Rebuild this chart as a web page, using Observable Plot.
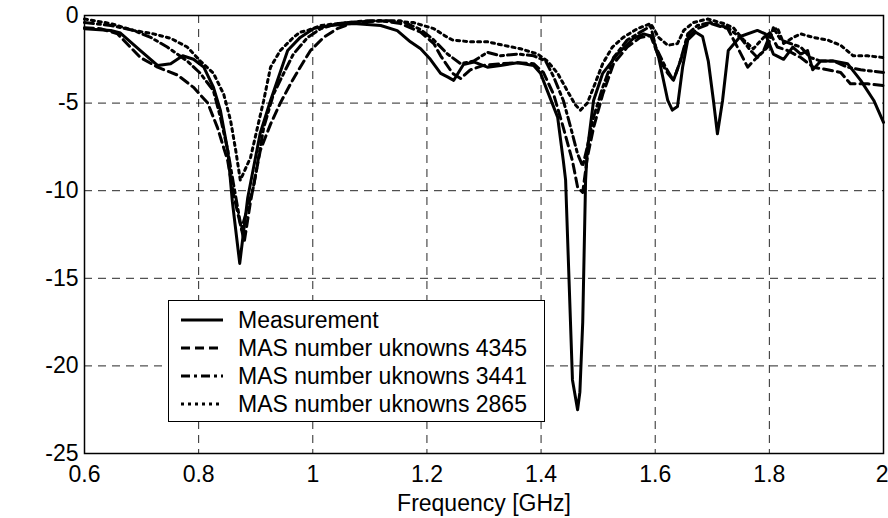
<!DOCTYPE html>
<html><head><meta charset="utf-8">
<script src="https://cdn.jsdelivr.net/npm/d3@7"></script>
<script src="https://cdn.jsdelivr.net/npm/@observablehq/plot@0.6"></script>
<style>
body{margin:0;background:#fff;font-family:"Liberation Sans",Arial,Helvetica,sans-serif;}
#wrap{position:relative;width:888px;height:518px;overflow:hidden;}
#legend{position:absolute;left:168px;top:300px;width:377px;height:122px;box-sizing:border-box;border:1px solid #000;background:#fff;font-size:23px;color:#000;}
.row{position:absolute;left:0;height:28px;display:flex;align-items:center;white-space:nowrap;}
.row svg{margin-left:12px;margin-right:15px;}
</style></head><body>
<div id="wrap"></div>
<script>
// ---- data ----
const seriesNames = ["Measurement", "MAS number uknowns 4345", "MAS number uknowns 3441", "MAS number uknowns 2865"];
const seriesDash = ["none", "9,5", "9,4,3,4", "3,4"];

const freqMeas = [0.600,0.646,0.663,0.698,0.728,0.751,0.772,0.791,0.809,0.826,0.838,0.851,0.859,0.872,0.886,0.908,0.926,0.956,0.978,1.001,1.031,1.071,1.119,1.148,1.171,1.189,1.206,1.224,1.236,1.247,1.264,1.282,1.306,1.329,1.359,1.387,1.399,1.411,1.429,1.439,1.443,1.455,1.464,1.468,1.473,1.478,1.481,1.492,1.508,1.534,1.562,1.580,1.595,1.606,1.622,1.630,1.639,1.648,1.657,1.671,1.683,1.693,1.702,1.709,1.718,1.728,1.749,1.779,1.793,1.807,1.825,1.841,1.855,1.867,1.876,1.890,1.912,1.937,1.960,1.983,2.000];
const dbMeas   = [-0.75,-0.85,-1.0,-2.0,-2.85,-2.75,-2.3,-2.5,-2.95,-4.1,-5.4,-7.7,-10.6,-14.15,-10.4,-6.7,-4.85,-2.0,-1.25,-0.75,-0.57,-0.46,-0.57,-0.86,-1.5,-1.9,-2.5,-3.3,-3.5,-3.7,-2.8,-2.65,-2.95,-2.85,-2.7,-2.85,-3.3,-4.3,-5.8,-8.3,-9.4,-20.8,-22.5,-21.5,-17.5,-9.4,-7.7,-4.85,-3.3,-2.2,-1.3,-1.05,-1.2,-2.4,-4.85,-5.4,-5.2,-2.95,-1.4,-0.95,-1.2,-2.6,-4.85,-6.75,-4.85,-2.0,-1.2,-0.85,-1.05,-2.2,-2.5,-1.8,-2.2,-2.0,-3.1,-2.6,-2.6,-2.75,-3.7,-4.85,-6.1];

const freq4345 = [0.600,0.628,0.658,0.698,0.728,0.763,0.791,0.816,0.833,0.851,0.861,0.880,0.891,0.908,0.926,0.943,0.961,0.978,0.996,1.019,1.043,1.071,1.119,1.154,1.189,1.212,1.224,1.245,1.259,1.276,1.299,1.329,1.359,1.387,1.404,1.422,1.439,1.455,1.464,1.473,1.481,1.492,1.508,1.527,1.551,1.574,1.592,1.609,1.622,1.632,1.644,1.657,1.674,1.697,1.727,1.744,1.762,1.772,1.790,1.802,1.814,1.832,1.855,1.877,1.902,1.925,1.942,1.972,2.000];
const db4345   = [-0.7,-0.75,-1.05,-2.4,-2.95,-3.4,-4.1,-5.0,-6.4,-8.3,-10.2,-12.9,-10.6,-7.7,-6.2,-5.0,-3.9,-2.95,-2.0,-1.25,-0.75,-0.4,-0.3,-0.46,-0.95,-1.6,-2.3,-3.3,-3.6,-3.1,-2.85,-2.75,-2.7,-2.75,-3.25,-4.5,-6.4,-8.3,-9.8,-10.1,-8.1,-6.4,-4.5,-2.75,-1.8,-1.25,-1.15,-2.6,-3.3,-3.7,-2.6,-1.25,-0.75,-0.46,-0.75,-1.8,-2.95,-2.6,-2.0,-1.05,-1.8,-2.0,-2.4,-2.95,-3.1,-3.25,-3.9,-3.9,-4.0];

const freq3441 = [0.600,0.646,0.686,0.716,0.745,0.780,0.803,0.826,0.838,0.851,0.861,0.875,0.896,0.914,0.931,0.949,0.966,0.991,1.014,1.043,1.096,1.154,1.189,1.212,1.236,1.259,1.282,1.306,1.329,1.359,1.387,1.408,1.422,1.439,1.452,1.464,1.473,1.481,1.492,1.508,1.527,1.551,1.574,1.592,1.601,1.618,1.632,1.644,1.657,1.674,1.697,1.727,1.749,1.767,1.779,1.797,1.807,1.820,1.837,1.855,1.872,1.890,1.912,1.937,1.960,2.000];
const db3441   = [-0.4,-0.57,-0.85,-1.25,-1.8,-2.6,-3.3,-4.3,-5.8,-7.7,-9.6,-12.2,-9.8,-6.4,-4.5,-3.3,-2.2,-1.25,-0.75,-0.46,-0.3,-0.3,-0.8,-1.4,-2.2,-2.75,-2.6,-2.1,-2.3,-2.2,-2.3,-2.6,-3.5,-4.85,-6.4,-7.9,-8.6,-7.5,-5.8,-4.1,-2.4,-1.4,-0.95,-0.6,-1.8,-2.95,-3.7,-2.6,-1.05,-0.57,-0.4,-0.7,-1.25,-2.0,-2.4,-1.8,-0.7,-1.4,-1.6,-1.8,-2.4,-2.6,-2.6,-2.95,-3.1,-3.25];

const freq2865 = [0.600,0.646,0.686,0.721,0.751,0.780,0.803,0.826,0.844,0.856,0.865,0.873,0.891,0.903,0.914,0.926,0.943,0.966,0.978,0.991,1.014,1.061,1.119,1.176,1.212,1.236,1.245,1.276,1.306,1.334,1.364,1.394,1.411,1.429,1.446,1.460,1.469,1.481,1.492,1.508,1.525,1.544,1.569,1.592,1.606,1.622,1.639,1.650,1.667,1.692,1.720,1.737,1.755,1.772,1.790,1.814,1.825,1.842,1.855,1.877,1.902,1.925,1.947,1.972,2.000];
const db2865   = [-0.2,-0.46,-0.85,-1.05,-1.3,-1.8,-2.6,-3.3,-4.5,-6.0,-7.7,-9.4,-8.1,-6.4,-4.85,-2.95,-2.0,-1.25,-0.95,-0.85,-0.57,-0.4,-0.3,-0.4,-0.75,-1.25,-1.4,-1.5,-1.5,-1.7,-1.9,-2.2,-2.6,-3.3,-4.3,-5.1,-5.4,-5.0,-4.1,-2.75,-1.8,-1.25,-0.75,-0.46,-1.25,-1.7,-1.6,-0.85,-0.4,-0.2,-0.46,-0.7,-1.4,-1.9,-1.25,-0.7,-1.6,-1.25,-1.05,-1.25,-1.4,-1.7,-2.3,-2.3,-2.4];

const xTicks = [0.6, 0.8, 1.0, 1.2, 1.4, 1.6, 1.8, 2.0];
const xTickLabels = ["0.6", "0.8", "1", "1.2", "1.4", "1.6", "1.8", "2"];
const yTicks = [0, -5, -10, -15, -20, -25];
const yTickLabels = ["0", "-5", "-10", "-15", "-20", "-25"];
const xLabel = "Frequency [GHz]";

// ---- build ----
const freqs = [freqMeas, freq4345, freq3441, freq2865];
const dbs = [dbMeas, db4345, db3441, db2865];
const seriesData = freqs.map((f, i) => f.map((x, j) => ({x, y: dbs[i][j]})));
const xFmt = d => xTickLabels[xTicks.indexOf(d)];

const font = "Liberation Sans, Arial, Helvetica, sans-serif";
const chart = Plot.plot({
  width: 888, height: 518,
  marginLeft: 84, marginRight: 5, marginTop: 15, marginBottom: 65,
  style: {fontFamily: font, fontSize: "23px", color: "#000", background: "#fff", overflow: "visible"},
  x: {domain: [0.6, 2.0]},
  y: {domain: [-25, 0]},
  marks: [
    Plot.gridX(xTicks.slice(1, -1), {stroke: "#000", strokeOpacity: 0.85, strokeWidth: 1, strokeDasharray: "8,6"}),
    Plot.gridY(yTicks.slice(1, -1), {stroke: "#000", strokeOpacity: 0.85, strokeWidth: 1, strokeDasharray: "8,6"}),
    ...seriesData.map((d, i) => Plot.line(d, {x: "x", y: "y", stroke: "#000", strokeWidth: 3,
      strokeDasharray: seriesDash[i] === "none" ? null : seriesDash[i], strokeLinejoin: "round"})),
    Plot.frame({stroke: "#000", strokeWidth: 1.5}),
    Plot.axisX({ticks: xTicks.slice(0, -1), tickFormat: xFmt, tickSize: 0, tickPadding: 12, label: null, fontSize: 23}),
    Plot.axisX({ticks: xTicks.slice(-1), tickFormat: xFmt, tickSize: 0, tickPadding: 12, label: null, fontSize: 23, textAnchor: "end", dx: 5}),
    Plot.axisY({ticks: yTicks, tickFormat: d => yTickLabels[yTicks.indexOf(d)], tickSize: 0, tickPadding: 6, label: null, fontSize: 23}),
    Plot.text([xLabel], {frameAnchor: "bottom", dy: 50, lineAnchor: "middle", fontSize: 23, fill: "#000"})
  ]
});
const wrap = document.getElementById("wrap");
wrap.appendChild(chart);

// legend overlay
const legend = document.createElement("div");
legend.id = "legend";
seriesNames.forEach((name, i) => {
  const row = document.createElement("div");
  row.className = "row";
  row.style.top = (5 + i * 28) + "px";
  const dash = seriesDash[i] === "none" ? "" : `stroke-dasharray="${seriesDash[i]}"`;
  row.innerHTML = `<svg width="42" height="10"><line x1="0" y1="5" x2="42" y2="5" stroke="#000" stroke-width="3" ${dash}/></svg><span>${name}</span>`;
  legend.appendChild(row);
});
wrap.appendChild(legend);
</script>
</body></html>
